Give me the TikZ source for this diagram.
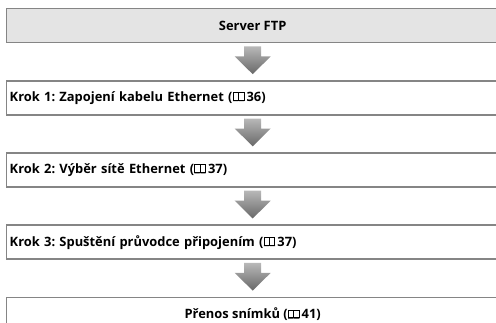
\documentclass[tikz,border=0pt]{standalone}
\usepackage{fontspec}
\setmainfont{Open Sans}
\frenchspacing
\usetikzlibrary{positioning,calc}
\definecolor{frame}{HTML}{858585}
\definecolor{headfill}{HTML}{E4E4E4}
\definecolor{arrT}{HTML}{B8B8B8}
\definecolor{arrB}{HTML}{686868}

% little open-book mark used for page references
\newcommand{\bookref}{\tikz[baseline=0pt, x=1pt, y=1pt, line width=0.6pt]{
  \draw (0.3,1.2) rectangle (5.6,8.6);
  \draw (5.6,1.2) rectangle (10.9,8.6);
  \draw (0,0.3) -- (4.9,0.3) -- (5.6,1.2) -- (6.3,0.3) -- (11.2,0.3);}\,}

% fat shaded arrow between two boxes
\newcommand{\flowarrow}[2]{
  \shade[top color=arrT, bottom color=arrB]
    ($(#1.south)+(-8.5,-3)$) -- ++(17,0) -- ++(0,-10) -- ++(9.5,0)
    -- ($(#2.north)+(0,6)$) -- ($(#1.south)+(-18,-13)$) -- ++(9.5,0) -- cycle;}

\begin{document}
\begin{tikzpicture}[x=1pt, y=1pt, node distance=36.75pt,
  box/.style={draw=frame, line width=1.4pt, minimum width=492pt, minimum height=34pt,
    inner sep=0pt, font=\fontsize{12.9}{15}\selectfont\bfseries},
  headbox/.style={box, fill=headfill},
  stepbox/.style={box, text width=486pt, align=left},
  endbox/.style={box}]
\clip (0,0) rectangle (496,-322);
\useasboundingbox (0,0) rectangle (496,-322);

\node[headbox, anchor=north west] (ftp) at (6,-8) {Server FTP};
\node[stepbox, below=of ftp] (s1) {Krok 1: Zapojení kabelu Ethernet (\bookref36)};
\node[stepbox, below=of s1] (s2) {Krok 2: Výběr sítě Ethernet (\bookref37)};
\node[stepbox, below=of s2] (s3) {Krok 3: Spuštění průvodce připojením (\bookref37)};
\node[endbox, below=of s3] (xfer) {Přenos snímků (\bookref41)};

\flowarrow{ftp}{s1}
\flowarrow{s1}{s2}
\flowarrow{s2}{s3}
\flowarrow{s3}{xfer}
\end{tikzpicture}
\end{document}
